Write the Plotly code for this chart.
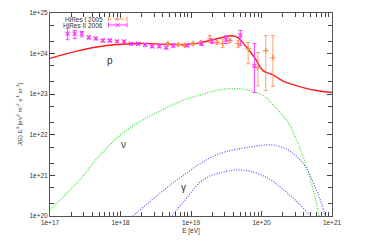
import numpy as np
import plotly.graph_objects as go

# model curves (E in eV, J(E) E^3 in eV^2 m^-2 s^-1 sr^-1)
proton_E = [1e17, 2.24e17, 6.46e17, 1.9e18, 6.9e18, 1.23e19, 2.04e19, 3.8e19, 4.68e19,
            6.17e19, 8.13e19, 1.05e20, 1.45e20, 2.0e20, 2.75e20, 3.9e20, 6.0e20, 1e21]
proton_J = [7.6e23, 1.12e24, 1.58e24, 1.78e24, 1.66e24, 1.78e24, 2.19e24, 2.75e24, 2.45e24,
            1.41e24, 7.6e23, 3.8e23, 3.0e23, 2.14e23, 1.74e23, 1.45e23, 1.23e23, 1.1e23]

nu_E = [1e17, 2.69e17, 5.13e17, 1e18, 1.9e18, 3.98e18, 7.76e18, 1.48e19, 2.24e19, 3.98e19,
        6.92e19, 1.05e20, 1.58e20, 2.4e20, 3.09e20, 4.27e20, 5.37e20, 6.31e20, 6.76e20]
nu_J = [1.41e20, 8.1e20, 3.16e21, 1.0e22, 2.14e22, 4.17e22, 7.1e22, 1.0e23, 1.23e23, 1.38e23,
        1.23e23, 9.3e22, 4.7e22, 2.0e22, 7.9e21, 1.82e21, 4.7e20, 1.41e20, 8.9e19]

gamma1_E = [1.4e18, 3.39e18, 7.76e18, 2.24e19, 6.92e19, 1.45e20, 2.24e20, 3.09e20, 4.27e20,
            5.89e20, 7.24e20, 8.1e20]
gamma1_J = [9.0e19, 3.3e20, 1e21, 3.16e21, 5.0e21, 5.6e21, 4.47e21, 3.0e21, 1.58e21,
            4.7e20, 1.86e20, 9.0e19]

gamma2_E = [5.1e18, 7.76e18, 1.48e19, 2.82e19, 5.5e19, 1.15e20, 2.24e20, 3.55e20, 5.2e20]
gamma2_J = [9.0e19, 2.19e20, 7.76e20, 1.2e21, 1.35e21, 9.1e20, 3.9e20, 1.86e20, 9.0e19]

# HiRes II 2006
hr2_E = [1.778e17, 2.239e17, 2.818e17, 3.548e17, 4.467e17, 5.623e17, 7.079e17, 8.913e17,
         1.122e18, 1.413e18, 1.778e18, 2.239e18, 2.818e18, 3.548e18, 4.467e18, 5.623e18,
         8.913e18, 1.413e19, 2.0e19, 3.162e19, 5.012e19, 7.943e19]
hr2_J = [3.1e24, 3.1e24, 3.1e24, 2.5e24, 2.35e24, 2.1e24, 2.1e24, 2.0e24,
         2.0e24, 1.75e24, 1.75e24, 1.65e24, 1.5e24, 1.5e24, 1.4e24, 1.6e24,
         1.6e24, 1.75e24, 2.0e24, 2.2e24, 2.8e24, 5.0e23]
hr2_hi = [4.2e24, 3.7e24, 3.5e24, 2.7e24, 2.5e24, 2.25e24, 2.25e24, 2.12e24,
          2.12e24, 1.86e24, 1.86e24, 1.75e24, 1.6e24, 1.6e24, 1.5e24, 1.75e24,
          1.72e24, 1.9e24, 2.2e24, 2.75e24, 3.7e24, 1.76e24]
hr2_lo = [2.2e24, 2.35e24, 2.6e24, 2.3e24, 2.2e24, 1.95e24, 1.95e24, 1.88e24,
          1.88e24, 1.64e24, 1.64e24, 1.55e24, 1.4e24, 1.4e24, 1.3e24, 1.45e24,
          1.48e24, 1.6e24, 1.8e24, 1.76e24, 1.58e24, 1.1e23]

# HiRes I 2005
hr1_E = [4.68e18, 6.61e18, 8.13e18, 1.07e19, 1.38e19, 1.86e19, 2.34e19, 2.82e19,
         3.55e19, 4.68e19, 6.46e19, 8.91e19, 1.15e20, 1.45e20]
hr1_J = [1.76e24, 1.67e24, 1.58e24, 1.76e24, 1.87e24, 2.34e24, 1.87e24, 1.76e24,
         2.09e24, 1.76e24, 1.33e24, 4.5e23, 1.19e24, 7.9e23]
hr1_hi = [1.86e24, 1.77e24, 1.68e24, 1.88e24, 2.05e24, 2.78e24, 2.05e24, 2.2e24,
          2.3e24, 2.09e24, 1.87e24, 1.06e24, 2.78e24, 2.78e24]
hr1_lo = [1.66e24, 1.57e24, 1.48e24, 1.64e24, 1.7e24, 1.87e24, 1.7e24, 1.4e24,
          1.9e24, 1.4e24, 5.6e23, 1.6e23, 1.24e23, 1.55e23]

x_ticks = [1e17, 1e18, 1e19, 1e20, 1e21]
x_ticktext = ['1e+17', '1e+18', '1e+19', '1e+20', '1e+21']
y_ticks = [1e20, 1e21, 1e22, 1e23, 1e24, 1e25]
y_ticktext = ['1e+20', '1e+21', '1e+22', '1e+23', '1e+24', '1e+25']

RED = '#ff1a1a'
GREEN = '#2ee82e'
BLUE = '#5555ff'
ORANGE = '#ff8a50'
MAGENTA = '#ff33ff'
TXT = '#333333'
DOTS = '1px,1.5px'

fig = go.Figure()
fig.add_trace(go.Scatter(x=nu_E, y=nu_J, mode='lines', line=dict(color=GREEN, width=1.3, dash=DOTS, shape='spline')))
fig.add_trace(go.Scatter(x=gamma1_E, y=gamma1_J, mode='lines', line=dict(color=BLUE, width=1.2, dash=DOTS, shape='spline')))
fig.add_trace(go.Scatter(x=gamma2_E, y=gamma2_J, mode='lines', line=dict(color=BLUE, width=1.2, dash=DOTS, shape='spline')))
fig.add_trace(go.Scatter(x=proton_E, y=proton_J, mode='lines', line=dict(color=RED, width=1.4, shape='spline')))

hr1_J_a = np.array(hr1_J)
fig.add_trace(go.Scatter(
    x=hr1_E, y=hr1_J, mode='markers',
    marker=dict(symbol='cross-thin', size=4, line=dict(color=ORANGE, width=1.2)),
    error_y=dict(type='data', symmetric=False, array=np.array(hr1_hi) - hr1_J_a,
                 arrayminus=hr1_J_a - np.array(hr1_lo), color=ORANGE, thickness=0.8, width=2)
))
hr2_J_a = np.array(hr2_J)
fig.add_trace(go.Scatter(
    x=hr2_E, y=hr2_J, mode='markers',
    marker=dict(symbol='x-thin', size=4, line=dict(color=MAGENTA, width=1.2)),
    error_y=dict(type='data', symmetric=False, array=np.array(hr2_hi) - hr2_J_a,
                 arrayminus=hr2_J_a - np.array(hr2_lo), color=MAGENTA, thickness=0.9, width=2)
))

# curve labels
for txt, xv, yv in [('p', 7.1e17, 6.8e23), ('ν', 1.1e18, 5.9e21), ('γ', 7.8e18, 5.1e20)]:
    fig.add_annotation(x=np.log10(xv), y=np.log10(yv), text=txt, showarrow=False,
                       font=dict(size=10, color=TXT))

# legend drawn by hand (sample to the right of the text)
legend_rows = [('HiRes I 2005', ORANGE, 'dot', 0.970), ('HiRes II 2006', MAGENTA, 'solid', 0.941)]
for i, (label, col, dash, yp) in enumerate(legend_rows):
    fig.add_annotation(xref='paper', yref='paper', x=0.196, y=yp, text=label, showarrow=False,
                       xanchor='right', yanchor='middle', height=6, font=dict(size=6.5, color=TXT))
    fig.add_shape(type='line', xref='paper', yref='paper', x0=0.207, x1=0.273, y0=yp, y1=yp,
                  line=dict(color=col, width=1, dash=dash))
    for xc in (0.207, 0.273):
        fig.add_shape(type='line', xref='paper', yref='paper', x0=xc, x1=xc, y0=yp - 0.012, y1=yp + 0.012,
                      line=dict(color=col, width=1))
    dx, dy = 0.007, 0.010
    if i == 0:
        segs = [(0.24 - dx, yp, 0.24 + dx, yp), (0.24, yp - dy, 0.24, yp + dy)]
    else:
        segs = [(0.24 - dx, yp - dy, 0.24 + dx, yp + dy), (0.24 - dx, yp + dy, 0.24 + dx, yp - dy)]
    for x0, y0, x1, y1 in segs:
        fig.add_shape(type='line', xref='paper', yref='paper', x0=x0, y0=y0, x1=x1, y1=y1,
                      line=dict(color=col, width=1))

axis_common = dict(
    type='log', showgrid=False, zeroline=False, showline=True, linecolor='#555555', linewidth=1,
    mirror='ticks', ticks='inside', ticklen=5, tickcolor='#444444', tickwidth=1,
    tickfont=dict(size=6.5, color=TXT), automargin=False,
)
fig.update_layout(
    width=366, height=245,
    margin=dict(l=42, r=42, t=5, b=37),
    paper_bgcolor='white', plot_bgcolor='white',
    showlegend=False,
    font=dict(family='Liberation Sans, Arial, sans-serif', color=TXT),
    xaxis=dict(axis_common, range=[17, 21], tickvals=x_ticks, ticktext=x_ticktext,
               title=dict(text='E [eV]', font=dict(size=6.5, color=TXT), standoff=3),
               minor=dict(tickvals=[m * 10.0 ** k for k in range(17, 21) for m in range(2, 10)],
                          ticks='inside', ticklen=4, tickcolor='#444444')),
    yaxis=dict(axis_common, range=[20, 25], tickvals=y_ticks, ticktext=y_ticktext,
               title=dict(text='J(E) E<sup>3</sup> [eV<sup>2</sup> m<sup>-2</sup> s<sup>-1</sup> sr<sup>-1</sup>]',
                          font=dict(size=6, color=TXT), standoff=6),
               minor=dict(tickvals=[m * 10.0 ** k for k in range(20, 25) for m in (2, 5)],
                          ticks='inside', ticklen=4, tickcolor='#444444')),
)

fig.write_html("out.html")
